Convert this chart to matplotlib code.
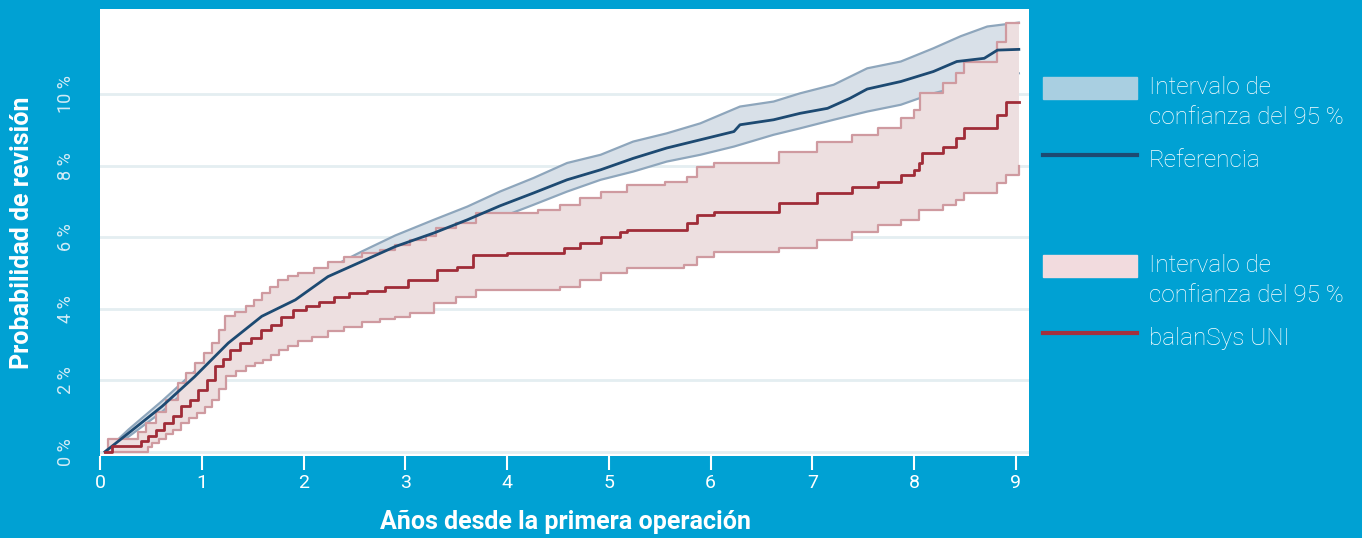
import numpy as np
import matplotlib
matplotlib.use('Agg')
import matplotlib.pyplot as plt
from matplotlib.patches import Rectangle
from matplotlib.lines import Line2D

plt.rcParams['font.family'] = ['Roboto', 'DejaVu Sans']

# Referencia (Kaplan-Meier, % revision)
ref_x = [0.05, 0.28, 0.61, 0.93, 1.26, 1.59, 1.92, 2.24, 2.57, 2.90, 3.28, 3.61, 3.93,
         4.26, 4.59, 4.92, 5.24, 5.57, 5.90, 6.23, 6.29, 6.62, 6.88, 7.15, 7.37, 7.54,
         7.87, 8.19, 8.42, 8.69, 8.82, 9.03]
ref_y = [0.0, 0.52, 1.27, 2.10, 3.04, 3.79, 4.25, 4.90, 5.32, 5.74, 6.12, 6.49, 6.88,
         7.24, 7.61, 7.89, 8.21, 8.50, 8.73, 8.96, 9.15, 9.29, 9.47, 9.61, 9.89, 10.15,
         10.36, 10.64, 10.92, 11.01, 11.24, 11.26]

ref_hi_x = [0.05, 0.28, 0.61, 0.93, 1.26, 1.59, 1.92, 2.24, 2.57, 2.90, 3.28, 3.61, 3.93,
            4.26, 4.59, 4.92, 5.24, 5.57, 5.90, 6.29, 6.62, 6.88, 7.21, 7.54, 7.87, 8.19,
            8.46, 8.72, 9.03]
ref_hi_y = [0.0, 0.62, 1.42, 2.25, 3.20, 3.98, 4.47, 5.12, 5.60, 6.05, 6.49, 6.86, 7.28,
            7.66, 8.08, 8.31, 8.68, 8.91, 9.19, 9.66, 9.80, 10.03, 10.27, 10.73, 10.92, 11.29,
            11.63, 11.90, 12.01]

ref_lo_x = [0.05, 0.28, 0.61, 0.93, 1.26, 1.59, 1.92, 2.24, 2.57, 2.90, 3.28, 3.61, 3.93,
            4.26, 4.59, 4.92, 5.24, 5.57, 5.90, 6.23, 6.62, 6.88, 7.21, 7.54, 7.87, 8.19,
            8.50, 8.80, 9.03]
ref_lo_y = [0.0, 0.42, 1.12, 1.93, 2.85, 3.58, 4.02, 4.64, 5.03, 5.42, 5.77, 6.12, 6.55,
            6.91, 7.28, 7.61, 7.84, 8.12, 8.31, 8.54, 8.87, 9.05, 9.29, 9.52, 9.71, 10.03,
            10.25, 10.45, 10.59]

# balanSys UNI (escalones)
uni_x = [0.05, 0.12, 0.40, 0.47, 0.55, 0.63, 0.72, 0.80, 0.88, 0.96, 1.05, 1.13, 1.21,
         1.28, 1.38, 1.48, 1.58, 1.68, 1.78, 1.90, 2.02, 2.15, 2.30, 2.45, 2.62, 2.80,
         3.03, 3.31, 3.51, 3.67, 4.00, 4.56, 4.72, 4.92, 5.11, 5.18, 5.77, 5.87, 6.03,
         6.67, 7.05, 7.39, 7.65, 7.87, 8.00, 8.05, 8.08, 8.28, 8.41, 8.49, 8.82, 8.90, 9.03]
uni_y = [0.0, 0.17, 0.30, 0.43, 0.62, 0.80, 1.00, 1.27, 1.45, 1.73, 2.00, 2.39, 2.60,
         2.85, 3.05, 3.18, 3.40, 3.55, 3.78, 3.97, 4.08, 4.20, 4.33, 4.45, 4.50, 4.62,
         4.81, 5.09, 5.18, 5.51, 5.56, 5.70, 5.84, 6.02, 6.16, 6.21, 6.40, 6.63, 6.72,
         6.96, 7.24, 7.42, 7.56, 7.75, 7.89, 8.08, 8.36, 8.54, 8.77, 9.05, 9.43, 9.80, 9.80]

uni_hi_x = [0.05, 0.08, 0.37, 0.45, 0.55, 0.65, 0.77, 0.85, 0.93, 1.02, 1.10, 1.17, 1.23,
            1.33, 1.43, 1.51, 1.59, 1.67, 1.75, 1.85, 1.95, 2.10, 2.24, 2.40, 2.57, 2.75,
            2.90, 3.05, 3.20, 3.30, 3.50, 3.70, 4.30, 4.52, 4.72, 4.92, 5.18, 5.55, 5.77,
            5.87, 6.03, 6.67, 7.05, 7.39, 7.65, 7.87, 8.00, 8.06, 8.28, 8.41, 8.49, 8.82,
            8.90, 9.03]
uni_hi_y = [0.0, 0.36, 0.55, 0.80, 1.10, 1.45, 1.92, 2.20, 2.48, 2.75, 3.04, 3.40, 3.79,
            3.90, 4.07, 4.25, 4.44, 4.62, 4.81, 4.92, 5.00, 5.15, 5.32, 5.45, 5.56, 5.65,
            5.78, 5.93, 6.05, 6.26, 6.40, 6.68, 6.77, 6.91, 7.10, 7.28, 7.47, 7.56, 7.70,
            7.98, 8.08, 8.40, 8.68, 8.87, 9.05, 9.33, 9.57, 10.03, 10.31, 10.59, 10.92, 11.48,
            12.01, 12.01]

uni_lo_x = [0.05, 0.47, 0.51, 0.58, 0.65, 0.72, 0.80, 0.87, 0.95, 1.03, 1.10, 1.17, 1.24,
            1.34, 1.43, 1.52, 1.60, 1.68, 1.76, 1.85, 1.95, 2.08, 2.24, 2.40, 2.57, 2.75,
            2.90, 3.05, 3.28, 3.50, 3.70, 4.52, 4.72, 4.92, 5.18, 5.74, 5.87, 6.03, 6.67,
            7.05, 7.39, 7.65, 7.87, 8.05, 8.28, 8.41, 8.49, 8.82, 8.90, 9.03]
uni_lo_y = [0.0, 0.12, 0.24, 0.36, 0.50, 0.62, 0.80, 0.95, 1.08, 1.25, 1.45, 1.75, 2.11,
            2.25, 2.39, 2.48, 2.57, 2.72, 2.85, 2.97, 3.09, 3.22, 3.37, 3.50, 3.64, 3.72,
            3.78, 3.88, 4.16, 4.33, 4.53, 4.62, 4.81, 5.00, 5.14, 5.23, 5.46, 5.60, 5.70,
            5.93, 6.16, 6.35, 6.49, 6.77, 6.91, 7.05, 7.24, 7.52, 7.75, 8.00]

x_ticks = list(range(10))
y_ticks = [0, 2, 4, 6, 8, 10]
y_labels = ['0 %', '2 %', '4 %', '6 %', '8 %', '10 %']

bg = '#00a1d3'
W, H = 1362, 538


def stair(x, y):
    # escalera "post" a partir de los puntos de cambio
    xs = np.repeat(x, 2)[1:]
    ys = np.repeat(y, 2)[:-1]
    return xs, ys


fig = plt.figure(figsize=(W / 100, H / 100), dpi=100, facecolor=bg)
ax = fig.add_axes([100 / W, 1 - 456 / H, 929 / W, 447 / H])
ax.set_facecolor('white')
ax.set_xlim(0, 9.13)
ax.set_ylim(-0.12, 12.39)

for g in y_ticks:
    ax.axhline(g, color='#e4eef1', lw=2, zorder=0)

# banda referencia
ax.fill(np.r_[ref_hi_x, ref_lo_x[::-1]], np.r_[ref_hi_y, ref_lo_y[::-1]],
        color='#d8e0e8', lw=0, zorder=1)
ax.plot(ref_hi_x, ref_hi_y, color='#8ea6bc', lw=1.6, zorder=1.5)
ax.plot(ref_lo_x, ref_lo_y, color='#8ea6bc', lw=1.6, zorder=1.5)
# banda balanSys
ux, uy = stair(uni_hi_x, uni_hi_y)
lx, ly = stair(uni_lo_x, uni_lo_y)
ax.fill(np.r_[ux, lx[::-1]], np.r_[uy, ly[::-1]], color='#eddfe0',
        lw=0, zorder=2)
ax.plot(ux, uy, color='#cf9aa0', lw=1.6, zorder=3)
ax.plot(lx, ly, color='#cf9aa0', lw=1.6, zorder=3)

ax.plot(ref_x, ref_y, color='#1d4a72', lw=2, zorder=4)
sx, sy = stair(uni_x, uni_y)
ax.plot(sx, sy, color='#a02c38', lw=2, zorder=5)

for s in ax.spines.values():
    s.set_visible(False)
ax.set_xticks(x_ticks)
ax.set_xticklabels([str(t) for t in x_ticks])
ax.tick_params(axis='x', colors='white', length=10, width=1.5, labelsize=14, pad=3)
ax.set_yticks(y_ticks)
ax.set_yticklabels(y_labels, rotation=90, va='center', color='#d2ebf6')
ax.tick_params(axis='y', length=0, labelsize=13, pad=18)

fig.text(565 / W, 1 - 522 / H, 'Años desde la primera operación', color='white',
         fontsize=18, fontweight='bold', ha='center', va='center')
fig.text(22 / W, 1 - 233 / H, 'Probabilidad de revisión', color='white',
         fontsize=18, fontweight='bold', ha='center', va='center', rotation=90)


# leyenda a la derecha
def fx(px):
    return px / W


def fy(py):
    return 1 - py / H


fig.add_artist(Rectangle((fx(1043), fy(99)), 94 / W, 22 / H, color='#a9cfe1',
                         transform=fig.transFigure))
fig.add_artist(Line2D([fx(1043), fx(1137)], [fy(155), fy(155)], color='#1d4a72',
                      lw=3, transform=fig.transFigure))
fig.add_artist(Rectangle((fx(1043), fy(277)), 94 / W, 22 / H, color='#f2dbde',
                         transform=fig.transFigure))
fig.add_artist(Line2D([fx(1043), fx(1137)], [fy(333), fy(333)], color='#a3313d',
                      lw=3, transform=fig.transFigure))

leg_items = [('Intervalo de', 88), ('confianza del 95 %', 117), ('Referencia', 160),
             ('Intervalo de', 266), ('confianza del 95 %', 295), ('balanSys UNI', 339)]
for txt, py in leg_items:
    fig.text(fx(1149), fy(py), txt, color='white', fontsize=17.5, fontweight='light',
             ha='left', va='center')

fig.savefig('out.png', dpi=100, facecolor=bg)
